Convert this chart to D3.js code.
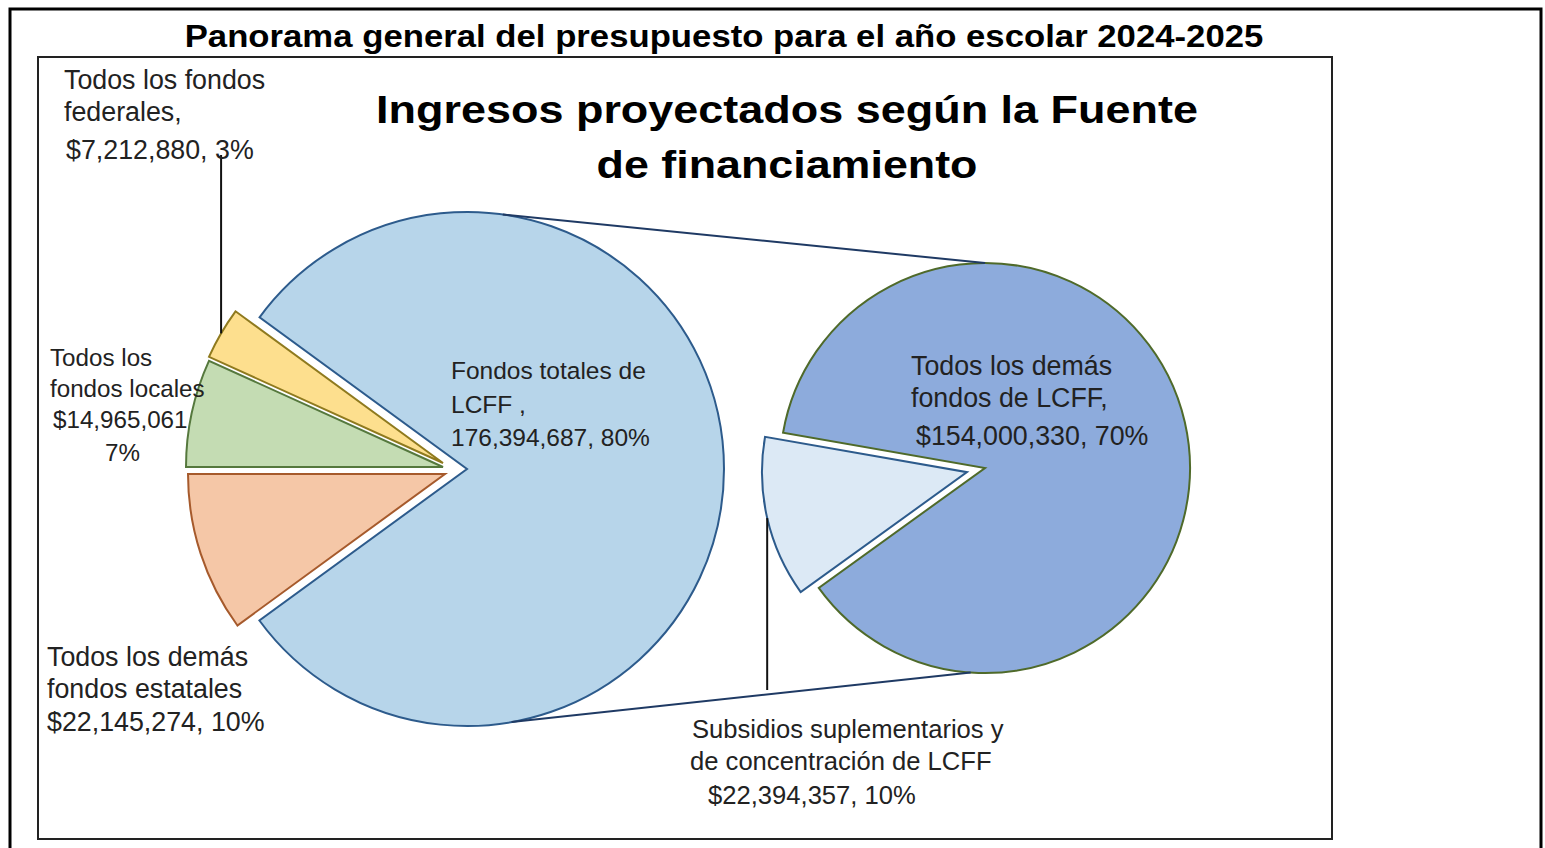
<!DOCTYPE html>
<html>
<head>
<meta charset="utf-8">
<script src="https://cdn.jsdelivr.net/npm/d3@7"></script>
<style>
  html, body { margin: 0; padding: 0; background: #ffffff; }
  svg { display: block; }
  text { font-family: "Liberation Sans", Arial, sans-serif; }
</style>
</head>
<body>
<svg id="chart" width="1545" height="848"></svg>
<script>
// ---------- data ----------
const mainCategories = ["Todos los demás fondos estatales", "Todos los fondos locales", "Todos los fondos federales", "Fondos totales de LCFF"];
const mainValues = [22145274, 14965061, 7212880, 176394687];
const subCategories = ["Subsidios suplementarios y de concentración de LCFF", "Todos los demás fondos de LCFF"];
const subValues = [22394357, 154000330];
const pageTitle = "Panorama general del presupuesto para el año escolar 2024-2025";
const chartTitle = ["Ingresos proyectados según la Fuente", "de financiamiento"];

// ---------- setup ----------
const svg = d3.select("#chart");
const total = d3.sum(mainValues);
const fmtMoney = d3.format("$,");
const fmtNum = d3.format(",");
const fmtPct = v => Math.round(v / total * 100) + "%";

// frames
svg.append("rect").attr("x", 10).attr("y", 9).attr("width", 1531).attr("height", 900)
  .attr("fill", "none").attr("stroke", "#000").attr("stroke-width", 3);
svg.append("rect").attr("x", 38).attr("y", 57).attr("width", 1294).attr("height", 782)
  .attr("fill", "#fff").attr("stroke", "#222").attr("stroke-width", 2);

function fitText(sel, x, width) {
  const w = sel.node().getComputedTextLength();
  const s = width / w;
  sel.attr("transform", `translate(${x},0) scale(${s},1) translate(${-x},0)`);
}

// page title
const t1 = svg.append("text").attr("x", 724).attr("y", 47).attr("text-anchor", "middle")
  .attr("font-size", 31).attr("font-weight", "bold").attr("fill", "#000").text(pageTitle);
fitText(t1, 724, 1079);

// chart title
chartTitle.forEach((line, i) => {
  const t = svg.append("text").attr("x", 787).attr("y", 123 + i * 55).attr("text-anchor", "middle")
    .attr("font-size", 39).attr("font-weight", "bold").attr("fill", "#000").text(line);
  fitText(t, 787, i === 0 ? 822 : 381);
});

// ---------- main pie ----------
const R1 = 257, cx1 = 467, cy1 = 469;
const start1 = 1.5 * Math.PI - 2 * Math.PI * mainValues[0] / total;
const pie1 = d3.pie().sort(null).startAngle(start1).endAngle(start1 + 2 * Math.PI);
const arc1 = d3.arc().innerRadius(0).outerRadius(R1);
const arcs1 = pie1(mainValues);
const fill1 = ["#f5c7a7", "#c4dcb3", "#fddf8e", "#b7d5ea"];
const stroke1 = ["#a65a2c", "#55783d", "#8f7a1e", "#2d5b8c"];
const offs1 = [[-22, 5], [-24, -2], [-24, -6], [0, 0]];

const g1 = svg.append("g");
g1.selectAll("path").data(arcs1).join("path")
  .attr("transform", (d, i) => `translate(${cx1 + offs1[i][0]},${cy1 + offs1[i][1]})`)
  .attr("d", arc1)
  .attr("fill", (d, i) => fill1[i])
  .attr("stroke", (d, i) => stroke1[i])
  .attr("stroke-width", 2)
  .attr("stroke-linejoin", "miter");

// ---------- sub pie ----------
const R2 = 205, cx2 = 985, cy2 = 468;
const start2 = 234.2 * Math.PI / 180;
const pie2 = d3.pie().sort(null).startAngle(start2).endAngle(start2 + 2 * Math.PI);
const arc2 = d3.arc().innerRadius(0).outerRadius(R2);
const arcs2 = pie2(subValues);
const fill2 = ["#dce9f5", "#8dabdc"];
const stroke2 = ["#2d5b8c", "#4f6a2a"];
const explode2 = [18.5, 0];
const offs2 = arcs2.map((d, i) => {
  const a = (d.startAngle + d.endAngle) / 2;
  return [explode2[i] * Math.sin(a), -explode2[i] * Math.cos(a)];
});
svg.append("g").selectAll("path").data(arcs2).join("path")
  .attr("transform", (d, i) => `translate(${cx2 + offs2[i][0]},${cy2 + offs2[i][1]})`)
  .attr("d", arc2)
  .attr("fill", (d, i) => fill2[i])
  .attr("stroke", (d, i) => stroke2[i])
  .attr("stroke-width", 2);

// ---------- connector lines ----------
const pt = (cx, cy, r, deg) => [cx + r * Math.sin(deg * Math.PI / 180), cy - r * Math.cos(deg * Math.PI / 180)];
const conn = [[pt(cx1, cy1, R1, 8), pt(cx2, cy2, R2, 0)], [pt(cx1, cy1, R1, 170), pt(cx2, cy2, R2, 184)]];
svg.append("g").selectAll("line").data(conn).join("line")
  .attr("x1", d => d[0][0]).attr("y1", d => d[0][1])
  .attr("x2", d => d[1][0]).attr("y2", d => d[1][1])
  .attr("stroke", "#1f3a64").attr("stroke-width", 2);

// ---------- leader lines ----------
function bisectorPoint(d, cx, cy, r, off) {
  const a = (d.startAngle + d.endAngle) / 2;
  return [cx + off[0] + r * Math.sin(a), cy + off[1] - r * Math.cos(a)];
}
const fedPt = bisectorPoint(arcs1[2], cx1, cy1, R1, offs1[2]);
svg.append("line").attr("x1", fedPt[0]).attr("y1", fedPt[1]).attr("x2", fedPt[0]).attr("y2", 155)
  .attr("stroke", "#111").attr("stroke-width", 2);
const subPt = bisectorPoint(arcs2[0], cx2, cy2, R2, offs2[0]);
svg.append("line").attr("x1", subPt[0]).attr("y1", subPt[1]).attr("x2", subPt[0]).attr("y2", 690)
  .attr("stroke", "#111").attr("stroke-width", 2);

// ---------- labels ----------
const labelLines = [
  { size: 26.8, lines: [["Todos los fondos", 64, 89], ["federales,", 64, 121], [`${fmtMoney(mainValues[2])}, ${fmtPct(mainValues[2])}`, 66, 159]] },
  { size: 24.2, lines: [["Todos los", 50, 366], ["fondos locales", 50, 397], [`${fmtMoney(mainValues[1])}`, 53, 428], [`${fmtPct(mainValues[1])}`, 105, 461]] },
  { size: 26.8, lines: [["Todos los demás", 47, 666], ["fondos estatales", 47, 698], [`${fmtMoney(mainValues[0])}, ${fmtPct(mainValues[0])}`, 47, 731]] },
  { size: 24.5, lines: [["Fondos totales de", 451, 379], ["LCFF ,", 451, 413], [`${fmtNum(mainValues[3])}, ${fmtPct(mainValues[3])}`, 451, 446]] },
  { size: 26.8, lines: [["Todos los demás", 911, 375], ["fondos de LCFF,", 911, 407], [`${fmtMoney(subValues[1])}, ${fmtPct(subValues[1])}`, 916, 445]] },
  { size: 25.6, lines: [["Subsidios suplementarios y", 692, 738], ["de concentración de LCFF", 690, 770], [`${fmtMoney(subValues[0])}, ${fmtPct(subValues[0])}`, 708, 804]] }
];
const lg = svg.append("g");
labelLines.forEach(lbl => {
  lbl.lines.forEach(([txt, x, y]) => {
    lg.append("text").attr("x", x).attr("y", y).attr("font-size", lbl.size)
      .attr("fill", "#222").text(txt);
  });
});
</script>
</body>
</html>
